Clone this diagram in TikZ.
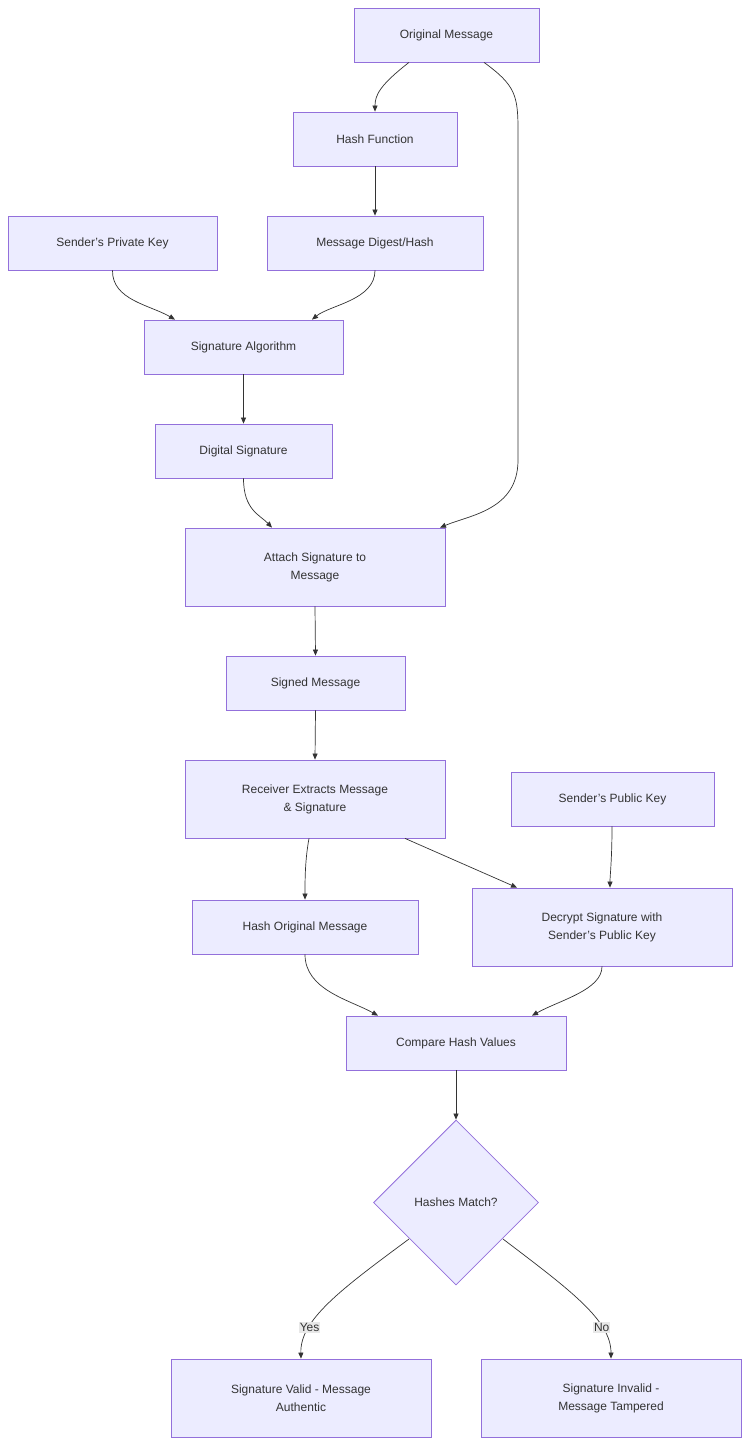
\documentclass[tikz,border=0pt]{standalone}
\usepackage{fontspec}
\setmainfont{Liberation Sans}
\usetikzlibrary{shapes.geometric,arrows.meta}
\definecolor{nfill}{HTML}{ECECFF}
\definecolor{nline}{HTML}{9370DB}
\definecolor{txt}{HTML}{333333}
\begin{document}
\begin{tikzpicture}[x=1pt,y=-1pt,
 box/.style={draw=nline,fill=nfill,text=txt,font=\fontsize{12}{18}\selectfont,align=center,inner sep=0pt,line width=0.8pt},
 edge/.style={draw=txt,line width=0.7pt,-{Triangle[length=6pt,width=5pt]}},
 lab/.style={fill=black!9,text=txt,font=\fontsize{12}{14}\selectfont,inner sep=1pt}]
\useasboundingbox (0,0) rectangle (749,1445);
\node[box,minimum width=185,minimum height=54] (om) at (446.5,35) {Original Message};
\node[box,minimum width=164,minimum height=54] (hf) at (375,139) {Hash Function};
\node[box,minimum width=209,minimum height=54] (pk) at (112.5,243) {Sender's Private Key};
\node[box,minimum width=216,minimum height=54] (md) at (375,243) {Message Digest/Hash};
\node[box,minimum width=199,minimum height=54] (sa) at (243.5,347) {Signature Algorithm};
\node[box,minimum width=177,minimum height=54] (ds) at (243.5,451) {Digital Signature};
\node[box,minimum width=260,minimum height=78] (at) at (315,567) {Attach Signature to\\Message};
\node[box,minimum width=179,minimum height=54] (sm) at (315.5,683) {Signed Message};
\node[box,minimum width=260,minimum height=78] (re) at (315,799) {Receiver Extracts Message\\\& Signature};
\node[box,minimum width=203,minimum height=54] (pub) at (612.5,799) {Sender's Public Key};
\node[box,minimum width=226,minimum height=54] (ho) at (305,927) {Hash Original Message};
\node[box,minimum width=260,minimum height=78] (de) at (602,927) {Decrypt Signature with\\Sender's Public Key};
\node[box,minimum width=220,minimum height=54] (ch) at (456,1043) {Compare Hash Values};
\node[box,diamond,minimum width=165,minimum height=165] (hm) at (456,1202.5) {Hashes Match?};
\node[box,minimum width=260,minimum height=78] (va) at (301,1398) {Signature Valid - Message\\Authentic};
\node[box,minimum width=260,minimum height=78] (in) at (611,1398) {Signature Invalid -\\Message Tampered};

\draw[edge] ([xshift=-37.5]om.south) .. controls (380,85) and (375,95) .. (hf.north);
\draw[edge] (hf.south) -- (md.north);
\draw[edge] (pk.south) .. controls (112,300) and (150,305) .. ([xshift=-68.5]sa.north);
\draw[edge] (md.south) .. controls (375,300) and (330,305) .. ([xshift=68.5]sa.north);
\draw[edge] (sa.south) -- (ds.north);
\draw[edge] (ds.south) .. controls (243.5,510) and (260,515) .. ([xshift=-43]at.north);
\draw[edge] ([xshift=37.5]om.south) .. controls (515,85) and (518,95) .. (518,130) -- (518,460) .. controls (518,510) and (470,515) .. ([xshift=125]at.north);
\draw[edge] (at.south) -- (sm.north);
\draw[edge] (sm.south) -- (re.north);
\draw[edge] ([xshift=-6]re.south) .. controls (305,860) and (305,880) .. (ho.north);
\draw[edge] ([xshift=90]re.south) -- ([xshift=-85]de.north);
\draw[edge] ([xshift=-0.5]pub.south) .. controls (612,860) and (610,875) .. ([xshift=8]de.north);
\draw[edge] (ho.south) .. controls (305,990) and (350,1000) .. ([xshift=-78]ch.north);
\draw[edge] (de.south) .. controls (602,990) and (560,1000) .. ([xshift=76]ch.north);
\draw[edge] (ch.south) -- (hm.north);
\draw[edge] (409,1239) .. controls (340,1290) and (300,1320) .. (va.north) node[lab,pos=0.72] {Yes};
\draw[edge] (503,1239) .. controls (570,1290) and (611,1320) .. (in.north) node[lab,pos=0.72] {No};
\end{tikzpicture}
\end{document}
